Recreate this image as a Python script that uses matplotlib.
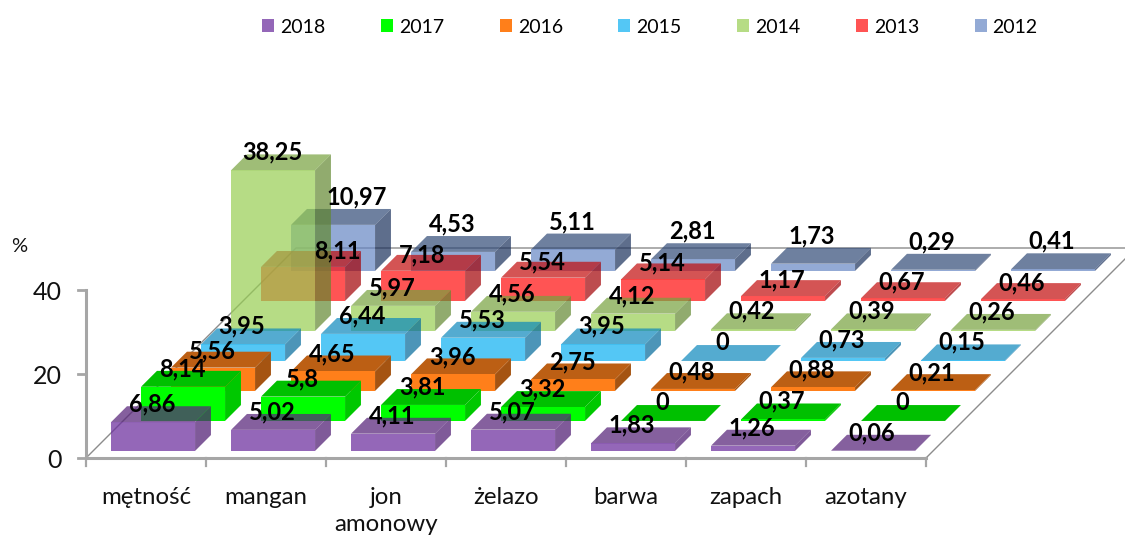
import matplotlib
matplotlib.use("Agg")
import matplotlib.pyplot as plt
from matplotlib.patches import Patch, Polygon

categories = ["mętność", "mangan", "jon\namonowy", "żelazo", "barwa", "zapach", "azotany"]
years = ["2018", "2017", "2016", "2015", "2014", "2013", "2012"]

v2018 = [6.86, 5.02, 4.11, 5.07, 1.83, 1.26, 0.06]
v2017 = [8.14, 5.8, 3.81, 3.32, 0, 0.37, 0]
v2016 = [5.56, 4.65, 3.96, 2.75, 0.48, 0.88, 0.21]
v2015 = [3.95, 6.44, 5.53, 3.95, 0, 0.73, 0.15]
v2014 = [38.25, 5.97, 4.56, 4.12, 0.42, 0.39, 0.26]
v2013 = [8.11, 7.18, 5.54, 5.14, 1.17, 0.67, 0.46]
v2012 = [10.97, 4.53, 5.11, 2.81, 1.73, 0.29, 0.41]
series = [v2018, v2017, v2016, v2015, v2014, v2013, v2012]

y_ticks = [0, 20, 40]

# colours as they look on white: front, side, top, plus opacity of the series
looks = [
    ((148, 103, 184), (127, 90, 153), (133, 96, 159), 0.73),
    ((0, 255, 0), (0, 200, 0), (0, 192, 0), 1.0),
    ((255, 127, 26), (165, 84, 18), (188, 95, 20), 1.0),
    ((85, 200, 245), (72, 150, 185), (85, 172, 208), 0.7),
    ((182, 221, 134), (145, 172, 110), (160, 190, 120), 0.7),
    ((255, 85, 85), (190, 70, 80), (212, 85, 85), 0.7),
    ((148, 170, 214), (95, 110, 140), (110, 128, 160), 0.7),
]

PX_CAT = 120
PX_VAL = 4.2
PX_DEPTH = 30
BAR_W = 0.7
BAR_D = 0.53


def rgba(col, a):
    # colour that gives col when laid over white with opacity a
    return tuple(max(0, min(1, (c / 255 - (1 - a)) / a)) for c in col) + (a,)


def pt(c, s, v):
    # oblique view: x in category units, y in percent, every series step is sheared
    return (c + s * PX_DEPTH / PX_CAT, v + s * PX_DEPTH / PX_VAL)


plt.rcParams["font.family"] = ["Lato", "DejaVu Sans"]
fig = plt.figure(figsize=(11.25, 5.36), dpi=100)
ax = fig.add_axes([0, 0, 1, 1])
ax.set_xlim(-86 / PX_CAT, (1125 - 86) / PX_CAT)
ax.set_ylim(-(536 - 458) / PX_VAL, 458 / PX_VAL)
ax.axis("off")

grey = "#a6a6a6"
n = len(categories)
m = len(years)

# floor
ax.plot(*zip(pt(0, 0, 0), pt(0, m, 0), pt(n, m, 0), pt(n, 0, 0)), color="#8c8c8c", lw=1, zorder=1)
ax.plot(*zip(pt(0, 0, 40), pt(0, 0, 0), pt(n, 0, 0)), color=grey, lw=2.2, zorder=1)
for v in y_ticks:
    x, y = pt(0, 0, v)
    ax.plot([x - 8 / PX_CAT, x], [y, y], color=grey, lw=2, zorder=1)
    ax.text(x - 24 / PX_CAT, y - 3 / PX_VAL, str(v), ha="right", va="center", fontsize=18, color="#111111")
for i in range(n + 1):
    x, y = pt(i, 0, 0)
    ax.plot([x, x], [y, y - 8 / PX_VAL], color=grey, lw=1.6, zorder=1)
for i, name in enumerate(categories):
    x, y = pt(i + 0.5, 0, 0)
    ax.text(x, y - 29 / PX_VAL, name, ha="center", va="top", fontsize=17.3, color="#111111", linespacing=1.33)
ax.text(19 / PX_CAT - 86 / PX_CAT, (458 - 247) / PX_VAL, "%", ha="center", va="center", fontsize=14.5, color="#111111")

# bars, back row first
x0 = (1 - BAR_W) / 2
s0 = (1 - BAR_D) / 2
z = 2
for s in range(m - 1, -1, -1):
    front, side, top, a = looks[s]
    for c in range(n):
        v = series[s][c]
        l, r = c + x0, c + x0 + BAR_W
        nr, fr = s + s0, s + s0 + BAR_D
        if v > 0:
            ax.add_patch(Polygon([pt(r, nr, 0), pt(r, fr, 0), pt(r, fr, v), pt(r, nr, v)], fc=rgba(side, a), lw=0, zorder=z))
        ax.add_patch(Polygon([pt(l, nr, v), pt(r, nr, v), pt(r, fr, v), pt(l, fr, v)], fc=rgba(top, a), lw=0, zorder=z))
        if v > 0:
            ax.add_patch(Polygon([pt(l, nr, 0), pt(r, nr, 0), pt(r, nr, v), pt(l, nr, v)], fc=rgba(front, a), lw=0, zorder=z))
        z += 1

# value labels sit at the back of the bar top, the 2012 row a bit higher
row_lift = [2, 2, 1, 2, 2, 0, 12]
label_shift = {(5, 0): 34, (6, 0): 24}
for s in range(m):
    for c in range(n):
        v = series[s][c]
        x, y = pt(c + 0.5, s + s0, v)
        y += 16 / PX_VAL
        dx = label_shift.get((s, c), -1)
        ax.text(x + dx / PX_CAT, y + row_lift[s] / PX_VAL, f"{v:g}".replace(".", ","), ha="center", va="center",
                fontsize=17, fontweight="bold", color="black", zorder=1000)

handles = [Patch(fc=rgba(looks[s][0], looks[s][3]), lw=0, label=years[s]) for s in range(m)]
ax.legend(handles=handles, loc="center", bbox_to_anchor=(650 / 1125, 1 - 27 / 536), ncol=m, frameon=False,
          fontsize=14, handlelength=0.62, handleheight=0.65, handletextpad=0.3, columnspacing=2.86)

fig.savefig("out.png", dpi=100)
